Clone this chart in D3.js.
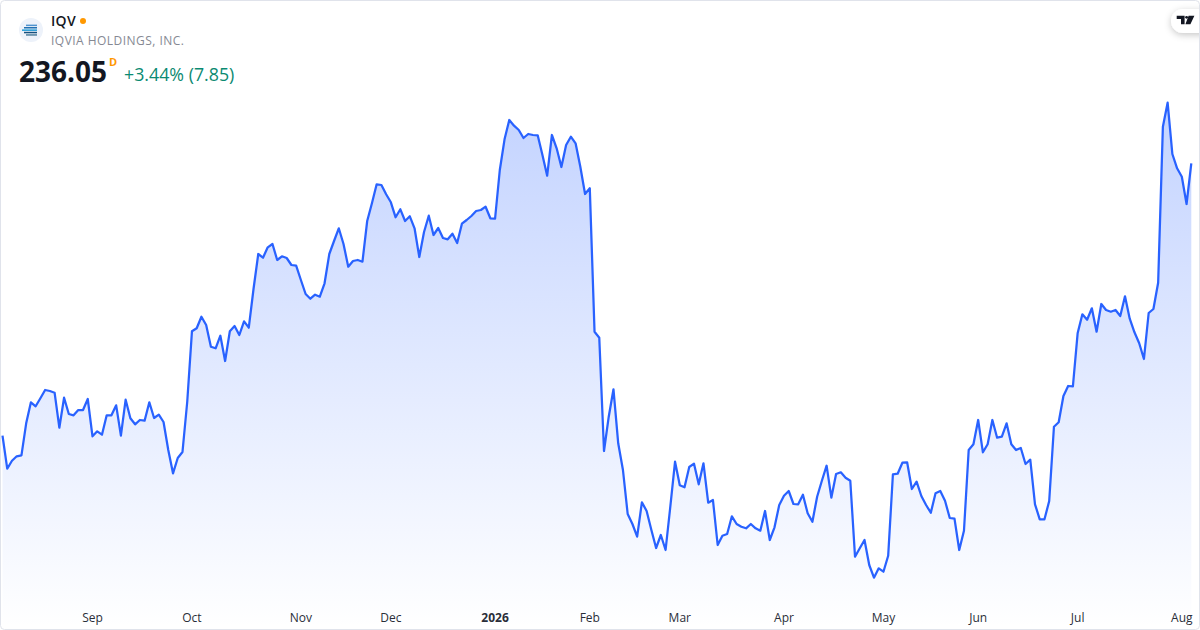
<!DOCTYPE html>
<html lang="en">
<head>
    <meta charset="UTF-8">
    <title>IQV</title>
    <script src="https://d3js.org/d3.v7.min.js"></script>
    <style>
        html, body { margin: 0; padding: 0; background: #fff; overflow: hidden; }
        text { font-family: "Open Sans", "Noto Sans", sans-serif; }
    </style>
</head>
<body>

    <div id="chart"></div>

    <script>
        // daily closes
        const closes = [
            181.57,174.97,176.57,177.45,177.65,184.05,188.25,187.45,189.05,190.71,
            190.51,190.17,183.17,189.17,185.91,185.65,186.71,186.71,188.91,181.45,
            182.45,181.77,185.65,185.65,187.65,181.57,188.77,185.05,183.85,184.71,
            184.57,188.25,185.11,185.77,184.31,178.71,174.05,177.11,178.31,188.31,
            202.45,203.05,205.37,203.71,199.37,199.05,201.57,196.51,202.45,203.51,
            201.71,204.45,203.17,210.91,217.91,217.17,219.25,219.91,216.71,217.45,
            217.11,215.71,215.57,212.71,209.91,208.97,209.77,209.37,212.05,217.91,
            220.51,223.05,219.91,215.37,216.51,216.71,216.37,224.51,228.05,231.85,
            231.71,229.85,228.25,225.25,226.85,224.51,225.45,223.05,217.31,222.31,
            225.57,221.71,223.11,221.11,220.85,221.97,220.11,223.97,224.71,225.51,
            226.51,226.71,227.37,225.05,224.97,234.71,240.85,244.71,243.57,242.71,
            241.11,241.91,241.71,241.65,237.71,233.57,241.71,239.05,235.31,239.71,
            241.37,240.05,235.37,229.91,231.05,202.37,201.17,178.51,185.37,190.85,
            180.05,174.71,165.91,163.91,161.37,168.25,166.51,162.71,159.11,161.71,
            158.71,167.37,176.37,171.65,171.25,175.31,175.97,171.85,176.05,168.17,
            168.71,159.71,161.57,161.91,165.45,163.91,163.37,163.05,163.91,163.05,
            162.57,166.51,160.71,163.25,167.71,169.57,170.51,167.91,167.85,169.77,
            166.05,164.37,169.37,172.57,175.57,169.17,173.91,174.25,173.17,172.57,
            157.37,159.05,160.71,155.71,153.17,155.05,154.37,157.57,173.85,173.97,
            176.17,176.25,170.91,172.37,169.51,167.71,166.17,170.05,170.51,168.57,
            165.11,164.97,158.71,162.57,178.71,179.85,184.71,178.25,179.85,184.71,
            181.17,181.37,184.05,179.85,178.71,179.11,175.91,176.77,167.85,164.85,
            164.85,168.51,183.37,184.25,189.51,191.51,191.45,202.05,205.85,204.77,
            207.05,202.37,207.91,206.71,206.37,206.71,205.51,209.45,204.97,202.25,
            200.05,196.91,206.11,206.91,212.17,243.37,248.17,237.91,235.05,233.37,
            227.91,236.05
        ];

        // first session of each month, as an index into closes
        const tickIndexes = [19, 40, 63, 82, 104, 124, 143, 165, 186, 206, 227, 249];
        const tickLabels = ["Sep", "Oct", "Nov", "Dec", "2026", "Feb", "Mar", "Apr", "May", "Jun", "Jul", "Aug"];

        const ticker = "IQV";
        const companyName = "IQVIA HOLDINGS, INC.";
        const lastPrice = "236.05";
        const priceChange = "+3.44% (7.85)";

        const width = 1200, height = 630;

        const svg = d3.select("#chart")
                      .append("svg")
                      .attr("width", width)
                      .attr("height", height)
                      .style("display", "block");

        const x = d3.scaleLinear().domain([0, closes.length - 1]).range([2.5, 1191.3]);
        const y = d3.scaleLinear().domain([268.71, 142.71]).range([0, height]);

        const defs = svg.append("defs");

        const grad = defs.append("linearGradient")
                         .attr("id", "fillGrad")
                         .attr("gradientUnits", "userSpaceOnUse")
                         .attr("x1", 0).attr("x2", 0)
                         .attr("y1", y(d3.max(closes)))
                         .attr("y2", 628);
        grad.append("stop").attr("offset", "0%").attr("stop-color", "#2962ff").attr("stop-opacity", 0.28);
        grad.append("stop").attr("offset", "100%").attr("stop-color", "#2962ff").attr("stop-opacity", 0);

        const shadow = defs.append("filter")
                           .attr("id", "pillShadow")
                           .attr("x", "-50%").attr("y", "-50%")
                           .attr("width", "200%").attr("height", "200%");
        shadow.append("feDropShadow")
              .attr("dx", 0).attr("dy", 2).attr("stdDeviation", 3.5)
              .attr("flood-color", "#000").attr("flood-opacity", 0.22);

        const area = d3.area()
                       .x((d, i) => x(i))
                       .y0(628)
                       .y1(d => y(d));

        const line = d3.line()
                       .x((d, i) => x(i))
                       .y(d => y(d));

        svg.append("path").attr("d", area(closes)).attr("fill", "url(#fillGrad)");
        svg.append("path")
           .attr("d", line(closes))
           .attr("fill", "none")
           .attr("stroke", "#2962ff")
           .attr("stroke-width", 2.25)
           .attr("stroke-linejoin", "round");

        // month labels
        const axis = d3.axisBottom(x)
                       .tickValues(tickIndexes)
                       .tickSize(0)
                       .tickPadding(0)
                       .tickFormat((d, i) => tickLabels[i]);

        const axisG = svg.append("g").attr("transform", "translate(-0.5,613)").call(axis);
        axisG.select(".domain").remove();
        axisG.selectAll("text")
             .attr("font-size", 12)
             .attr("dy", "0.71em")
             .style("font-family", '"Open Sans", "Noto Sans", sans-serif')
             .attr("fill", "#2a2e39")
             .attr("font-weight", (d, i) => tickLabels[i] === "2026" ? 700 : 400);

        // logo badge
        svg.append("circle").attr("cx", 31).attr("cy", 30).attr("r", 12).attr("fill", "#edf2fa");
        const stripes = [[26, 37, "#4f93cf"], [24, 37, "#1f6fb2"], [22, 37, "#1f9ad6"], [24, 37, "#14507f"], [26, 37, "#4f7f9f"]];
        stripes.forEach((s, i) => {
            svg.append("rect")
               .attr("x", s[0]).attr("y", 24.6 + i * 2.4)
               .attr("width", s[1] - s[0]).attr("height", 1.5)
               .attr("fill", s[2]);
        });

        // header
        svg.append("text").attr("x", 51).attr("y", 26)
           .attr("font-size", 14).attr("font-weight", 600).attr("letter-spacing", 0.3).attr("fill", "#131722").text(ticker);
        svg.append("circle").attr("cx", 83).attr("cy", 21).attr("r", 3).attr("fill", "#ff9800");
        svg.append("text").attr("x", 51).attr("y", 45)
           .attr("font-size", 12).attr("letter-spacing", 0.47).attr("fill", "#868993").text(companyName);
        svg.append("text").attr("x", 19).attr("y", 82)
           .attr("font-size", 28).attr("font-weight", 700).attr("fill", "#131722").text(lastPrice);
        svg.append("text").attr("x", 109).attr("y", 66)
           .attr("font-size", 11).attr("font-weight", 700).attr("fill", "#ff9800").text("D");
        svg.append("text").attr("x", 124).attr("y", 81)
           .attr("font-size", 17.8).attr("fill", "#0b8a72").text(priceChange);

        // TV badge, top right
        svg.append("rect")
           .attr("x", 1171).attr("y", 9).attr("width", 50).attr("height", 24).attr("rx", 12)
           .attr("fill", "#fff").attr("filter", "url(#pillShadow)");
        svg.append("path")
           .attr("d", "M1176.7 15.7H1184.6V24.3H1181V19H1176.7Z M1188.6 15.7H1194.4L1190.4 24.3H1185.4Z")
           .attr("fill", "#131722");
        svg.append("circle").attr("cx", 1186.6).attr("cy", 17.3).attr("r", 1.4).attr("fill", "#131722");

        // card border
        svg.append("rect")
           .attr("x", 0.5).attr("y", 0.5)
           .attr("width", width - 1).attr("height", height - 1)
           .attr("rx", 4)
           .attr("fill", "none")
           .attr("stroke", "#e0e3eb");
    </script>

</body>
</html>
